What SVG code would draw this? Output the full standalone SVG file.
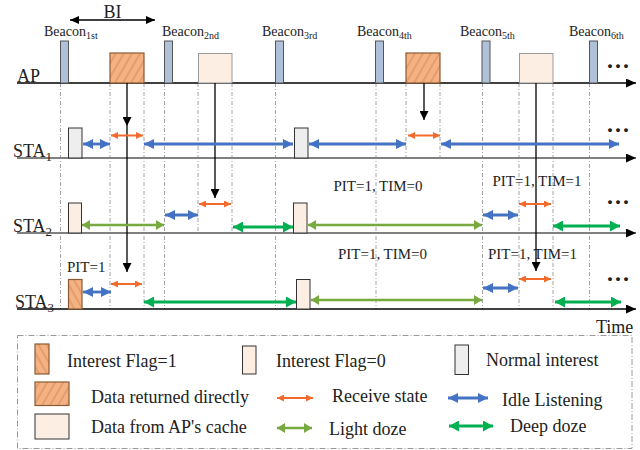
<svg xmlns="http://www.w3.org/2000/svg" width="640" height="450" viewBox="0 0 640 450">
<style>
text{font-family:"Liberation Serif","Times New Roman",serif;fill:#222}
.lbl{font-size:18px}
.bcn{font-size:14px}
.sub{font-size:10px}
.pit{font-size:15px}
.dots{font-size:24px;font-weight:bold;letter-spacing:2px}
.tl{stroke:#000;stroke-width:1.5;fill:none}
.tls{stroke:#808080;stroke-width:1.8;fill:none}
.dash{stroke:#9a9a9a;stroke-width:0.9;stroke-dasharray:4 2 1 2;fill:none}
.beacon{fill:#AFC0D9;stroke:#555;stroke-width:1}
.dd{fill:url(#hatchF);stroke:#8a5a32;stroke-width:1.2}
.ifl{fill:url(#hatchB);stroke:#8a5a32;stroke-width:1.2}
.cache{fill:#FDEEE3;stroke:#999;stroke-width:1}
.if0{fill:#FDEEE3;stroke:#333;stroke-width:1}
.norm{fill:#EEEEEE;stroke:#333;stroke-width:1}
.blue{stroke:#4472C4;stroke-width:2.8;marker-start:url(#hB);marker-end:url(#hB)}
.orange{stroke:#F26B2C;stroke-width:2;marker-start:url(#hO);marker-end:url(#hO)}
.olive{stroke:#78A840;stroke-width:2.5;marker-start:url(#hL);marker-end:url(#hL)}
.green{stroke:#00B050;stroke-width:3;marker-start:url(#hG);marker-end:url(#hG)}
.down{stroke:#000;stroke-width:1.3;marker-end:url(#hK)}
</style>
<defs>
<pattern id="hatchF" patternUnits="userSpaceOnUse" width="7" height="7" patternTransform="rotate(30)">
<rect width="7" height="7" fill="#F4B183"/>
<line x1="1" y1="0" x2="1" y2="7" stroke="#D98A55" stroke-width="1"/>
</pattern>
<pattern id="hatchB" patternUnits="userSpaceOnUse" width="7" height="7" patternTransform="rotate(-30)">
<rect width="7" height="7" fill="#F4B183"/>
<line x1="1" y1="0" x2="1" y2="7" stroke="#D98A55" stroke-width="1"/>
</pattern>
<marker id="hB" markerUnits="userSpaceOnUse" markerWidth="10" markerHeight="10" refX="10" refY="5" orient="auto-start-reverse"><path d="M0,0 L10,5 L0,10 Z" fill="#4472C4"/></marker>
<marker id="hO" markerUnits="userSpaceOnUse" markerWidth="7" markerHeight="7" refX="7" refY="3.5" orient="auto-start-reverse"><path d="M0,0 L7,3.5 L0,7 Z" fill="#F26B2C"/></marker>
<marker id="hL" markerUnits="userSpaceOnUse" markerWidth="8" markerHeight="10" refX="8" refY="5" orient="auto-start-reverse"><path d="M0,0 L8,5 L0,10 Z" fill="#78A840"/></marker>
<marker id="hG" markerUnits="userSpaceOnUse" markerWidth="10" markerHeight="11" refX="10" refY="5.5" orient="auto-start-reverse"><path d="M0,0 L10,5.5 L0,11 Z" fill="#00B050"/></marker>
<marker id="hK" markerUnits="userSpaceOnUse" markerWidth="9" markerHeight="9" refX="9" refY="4.5" orient="auto"><path d="M0,0 L9,4.5 L0,9 Z" fill="#000"/></marker>
<marker id="hT" markerUnits="userSpaceOnUse" markerWidth="10" markerHeight="9" refX="10" refY="4.5" orient="auto"><path d="M0,0 L10,4.5 L0,9 Z" fill="#000"/></marker>
<marker id="hBI" markerUnits="userSpaceOnUse" markerWidth="9" markerHeight="8" refX="9" refY="4" orient="auto-start-reverse"><path d="M0,0 L9,4 L0,8 Z" fill="#000"/></marker>
</defs>

<g id="guides">
<line class="dash" x1="60.5" y1="83" x2="60.5" y2="309"/>
<line class="dash" x1="164.5" y1="83" x2="164.5" y2="309"/>
<line class="dash" x1="275.5" y1="83" x2="275.5" y2="309"/>
<line class="dash" x1="376" y1="83" x2="376" y2="309"/>
<line class="dash" x1="482.5" y1="83" x2="482.5" y2="309"/>
<line class="dash" x1="589.5" y1="83" x2="589.5" y2="309"/>
<line class="dash" x1="110" y1="83" x2="110" y2="309"/>
<line class="dash" x1="144" y1="83" x2="144" y2="309"/>
<line class="dash" x1="198" y1="83" x2="198" y2="233"/>
<line class="dash" x1="232" y1="83" x2="232" y2="233"/>
<line class="dash" x1="406" y1="83" x2="406" y2="158"/>
<line class="dash" x1="440" y1="83" x2="440" y2="158"/>
<line class="dash" x1="519" y1="83" x2="519" y2="309"/>
<line class="dash" x1="553" y1="83" x2="553" y2="309"/>
</g>

<g id="timelines">
<line class="tl" x1="17" y1="83" x2="636" y2="83" marker-end="url(#hT)"/>
<line class="tls" x1="17" y1="158" x2="636" y2="158" marker-end="url(#hT)"/>
<line class="tls" x1="17" y1="233" x2="636" y2="233" marker-end="url(#hT)"/>
<line class="tl" x1="17" y1="309" x2="636" y2="309" marker-end="url(#hT)"/>
<text class="lbl" x="17" y="82">AP</text>
<text class="lbl" x="13" y="157">STA<tspan font-size="13" dy="4">1</tspan></text>
<text class="lbl" x="13" y="232">STA<tspan font-size="13" dy="4">2</tspan></text>
<text class="lbl" x="15" y="308">STA<tspan font-size="13" dy="4">3</tspan></text>
<text class="lbl" x="596" y="333">Time</text>
</g>

<g id="bi">
<line x1="70" y1="20" x2="155" y2="20" stroke="#000" stroke-width="1.3" marker-start="url(#hBI)" marker-end="url(#hBI)"/>
<text class="lbl" x="112.5" y="18" text-anchor="middle">BI</text>
</g>

<g id="ap">
<rect class="beacon" x="60.5" y="41" width="8" height="42"/>
<rect class="beacon" x="164.5" y="41" width="8" height="42"/>
<rect class="beacon" x="275.5" y="41" width="8" height="42"/>
<rect class="beacon" x="375.5" y="41" width="8" height="42"/>
<rect class="beacon" x="482" y="41" width="8" height="42"/>
<rect class="beacon" x="589.5" y="41" width="8" height="42"/>
<text class="bcn" x="44" y="36">Beacon<tspan class="sub" dy="3">1st</tspan></text>
<text class="bcn" x="162" y="36">Beacon<tspan class="sub" dy="3">2nd</tspan></text>
<text class="bcn" x="262" y="36">Beacon<tspan class="sub" dy="3">3rd</tspan></text>
<text class="bcn" x="357" y="36">Beacon<tspan class="sub" dy="3">4th</tspan></text>
<text class="bcn" x="460" y="36">Beacon<tspan class="sub" dy="3">5th</tspan></text>
<text class="bcn" x="569" y="36">Beacon<tspan class="sub" dy="3">6th</tspan></text>
<rect class="dd" x="110" y="53" width="34" height="30"/>
<rect class="cache" x="198.5" y="53.5" width="33.5" height="29.5"/>
<rect class="dd" x="406" y="53" width="34" height="30"/>
<rect class="cache" x="519.5" y="53.5" width="33.5" height="29.5"/>
<text class="dots" x="607" y="68">...</text>
</g>

<g id="sta1">
<rect class="norm" x="68.5" y="128" width="13.5" height="30"/>
<rect class="norm" x="294.5" y="128" width="13.5" height="30"/>
<text class="dots" x="607" y="132">...</text>
</g>

<g id="sta2">
<rect class="if0" x="68.5" y="203" width="13" height="30"/>
<rect class="if0" x="293.5" y="203" width="13.5" height="30"/>
<text class="dots" x="607" y="204">...</text>
<text class="pit" x="378" y="191" text-anchor="middle">PIT=1, TIM=0</text>
<text class="pit" x="537" y="186" text-anchor="middle">PIT=1, TIM=1</text>
</g>

<g id="sta3">
<rect class="ifl" x="68.5" y="279.5" width="13.5" height="29.5"/>
<rect class="if0" x="296.5" y="279.5" width="13.5" height="29.5"/>
<text class="dots" x="607" y="281">...</text>
<text class="pit" x="67" y="272">PIT=1</text>
<text class="pit" x="382.5" y="259" text-anchor="middle">PIT=1, TIM=0</text>
<text class="pit" x="532.5" y="259" text-anchor="middle">PIT=1, TIM=1</text>
</g>

<g id="connectors">
<line class="down" x1="127" y1="83" x2="127" y2="126"/>
<line class="down" x1="127" y1="126" x2="127" y2="272"/>
<line class="down" x1="215" y1="83" x2="215" y2="198"/>
<line class="down" x1="424" y1="83" x2="424" y2="120"/>
<line class="down" x1="536" y1="83" x2="536" y2="271"/>

<line class="blue" x1="83" y1="144" x2="110" y2="144"/>
<line class="orange" x1="111" y1="135.5" x2="143" y2="135.5"/>
<line class="blue" x1="144" y1="144" x2="293" y2="144"/>
<line class="blue" x1="309" y1="144" x2="406" y2="144"/>
<line class="orange" x1="408" y1="135.5" x2="440" y2="135.5"/>
<line class="blue" x1="441" y1="144" x2="619" y2="144"/>

<line class="olive" x1="82" y1="225" x2="164" y2="225"/>
<line class="blue" x1="165" y1="215" x2="198" y2="215"/>
<line class="orange" x1="199" y1="204" x2="231" y2="204"/>
<line class="green" x1="233" y1="227" x2="293" y2="227"/>
<line class="olive" x1="308" y1="225" x2="482" y2="225"/>
<line class="blue" x1="483" y1="215" x2="518" y2="215"/>
<line class="orange" x1="519" y1="204" x2="551" y2="204"/>
<line class="green" x1="553" y1="226" x2="620" y2="226"/>

<line class="blue" x1="83" y1="292" x2="111" y2="292"/>
<line class="orange" x1="111" y1="284" x2="142" y2="284"/>
<line class="green" x1="144" y1="302" x2="296" y2="302"/>
<line class="olive" x1="311" y1="300" x2="482" y2="300"/>
<line class="blue" x1="483" y1="288" x2="518" y2="288"/>
<line class="orange" x1="519" y1="279" x2="551" y2="279"/>
<line class="green" x1="555" y1="302" x2="621" y2="302"/>
</g>

<g id="legend">
<rect x="17.5" y="335.5" width="614.5" height="113" fill="none" stroke="#9a9a9a" stroke-width="1" stroke-dasharray="6 2 1 2"/>
<rect class="ifl" x="35" y="344" width="14" height="30"/>
<text class="lbl" x="67" y="367">Interest Flag=1</text>
<rect class="if0" x="242.5" y="346" width="13.5" height="28"/>
<text class="lbl" x="276" y="367">Interest Flag=0</text>
<rect class="norm" x="455" y="345" width="13.5" height="29.5"/>
<text class="lbl" x="486" y="366">Normal interest</text>
<rect class="dd" x="35" y="382" width="34" height="23.5"/>
<text class="lbl" x="91" y="403">Data returned directly</text>
<line class="orange" x1="277" y1="398" x2="313" y2="398"/>
<text class="lbl" x="332" y="402">Receive state</text>
<line class="blue" x1="448" y1="398" x2="488" y2="398"/>
<text class="lbl" x="502" y="406">Idle Listening</text>
<rect class="if0" x="35" y="414" width="34" height="25"/>
<text class="lbl" x="91" y="433">Data from AP's cache</text>
<line class="olive" x1="277" y1="428" x2="312" y2="428"/>
<text class="lbl" x="329" y="435">Light doze</text>
<line class="green" x1="449" y1="426" x2="493" y2="426"/>
<text class="lbl" x="510" y="432">Deep doze</text>
</g>
</svg>
